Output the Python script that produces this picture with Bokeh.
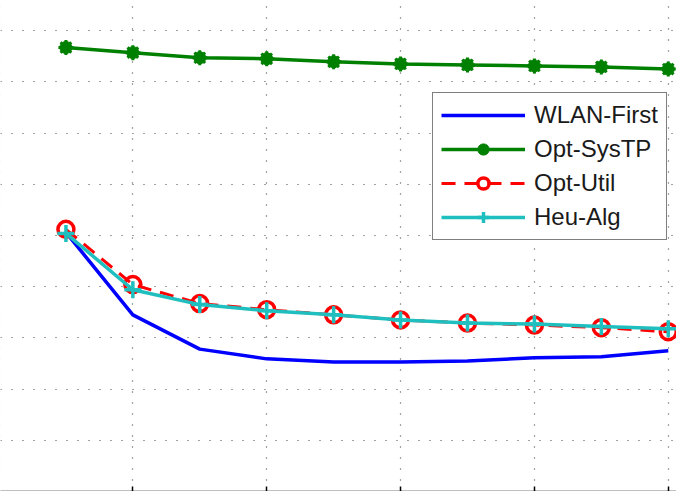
from bokeh.plotting import figure
from bokeh.models import Range1d, LinearAxis, FixedTicker, Grid, Legend, LegendItem
from bokeh.embed import file_html
from bokeh.resources import INLINE

# ---- data (arbitrary y units: one grid step = 1) ----
x_vals = [1, 2, 3, 4, 5, 6, 7, 8, 9, 10]
wlan_first = [5.06, 3.45, 2.78, 2.59, 2.53, 2.53, 2.55, 2.61, 2.63, 2.75]
opt_systp = [8.67, 8.57, 8.47, 8.45, 8.39, 8.35, 8.33, 8.31, 8.29, 8.25]
opt_util = [5.12, 4.04, 3.67, 3.55, 3.45, 3.35, 3.29, 3.25, 3.20, 3.12]
heu_alg = [5.04, 3.94, 3.65, 3.53, 3.45, 3.35, 3.29, 3.27, 3.22, 3.18]
x_ticks = [0, 2, 4, 6, 8, 10, 12]
y_ticks = [0, 1, 2, 3, 4, 5, 6, 7, 8, 9, 10]
series_names = ["WLAN-First", "Opt-SysTP", "Opt-Util", "Heu-Alg"]

BLUE = "#0000FF"
GREEN = "#008000"
RED = "#FF0000"
CYAN = "#1FBFBF"

p = figure(width=676, height=491, output_backend="svg", toolbar_location=None,
           x_axis_location=None, y_axis_location=None,
           x_range=Range1d(0.0224, 10.123), y_range=Range1d(0, 9.588),
           min_border=0, min_border_left=0, min_border_right=0,
           min_border_top=0, min_border_bottom=0)
p.outline_line_color = None
p.background_fill_color = "white"
p.border_fill_color = "white"
p.grid.visible = False

# bottom axis: ticks inward, no tick labels (the reference shows none)
xaxis = LinearAxis(ticker=FixedTicker(ticks=x_ticks))
xaxis.major_label_overrides = {t: "" for t in x_ticks}
xaxis.major_label_text_font_size = "0px"
xaxis.major_label_standoff = 0
xaxis.major_tick_in = 5
xaxis.major_tick_out = 0
xaxis.minor_tick_in = 0
xaxis.minor_tick_out = 0
xaxis.axis_line_color = "black"
xaxis.axis_line_width = 1.5
xaxis.major_tick_line_width = 1.5
p.add_layout(xaxis, "below")

# grids (dotted)
xgrid = Grid(dimension=0, ticker=FixedTicker(ticks=x_ticks), grid_line_color="#333333",
             grid_line_dash="1 10", grid_line_width=1.2, grid_line_alpha=0.9)
ygrid = Grid(dimension=1, ticker=FixedTicker(ticks=y_ticks), grid_line_color="#333333",
             grid_line_dash="1 10", grid_line_width=1.2, grid_line_alpha=0.9)
p.add_layout(xgrid)
p.add_layout(ygrid)

# series
r_blue = p.line(x_vals, wlan_first, line_color=BLUE, line_width=3.5)

r_green_l = p.line(x_vals, opt_systp, line_color=GREEN, line_width=3.5)
r_green_c = p.scatter(x_vals, opt_systp, marker="circle", size=12, fill_color=GREEN, line_color=GREEN)
r_green_a = p.scatter(x_vals, opt_systp, marker="asterisk", size=15, line_color=GREEN, line_width=3)

r_red_l = p.line(x_vals, opt_util, line_color=RED, line_width=3, line_dash="14 9")
r_red_m = p.scatter(x_vals, opt_util, marker="circle", size=16, fill_color=None, line_color=RED, line_width=3.5)

r_cyan_l = p.line(x_vals, heu_alg, line_color=CYAN, line_width=3.5)
r_cyan_m = p.scatter(x_vals, heu_alg, marker="cross", size=17, line_color=CYAN, line_width=3.5)

legend = Legend(items=[
    LegendItem(label=series_names[0], renderers=[r_blue]),
    LegendItem(label=series_names[1], renderers=[r_green_l, r_green_c, r_green_a]),
    LegendItem(label=series_names[2], renderers=[r_red_l, r_red_m]),
    LegendItem(label=series_names[3], renderers=[r_cyan_l, r_cyan_m]),
])
legend.location = (432, 251)
legend.label_text_font = "Liberation Sans"
legend.label_text_font_size = "24px"
legend.label_text_color = "#1a1a1a"
legend.glyph_width = 84
legend.glyph_height = 28
legend.label_height = 28
legend.spacing = 6
legend.padding = 8
legend.margin = 0
legend.label_standoff = 9
legend.border_line_color = "black"
legend.border_line_width = 1.5
legend.background_fill_color = "white"
legend.background_fill_alpha = 1.0
p.add_layout(legend)

open("out.html", "w").write(file_html(p, INLINE))
